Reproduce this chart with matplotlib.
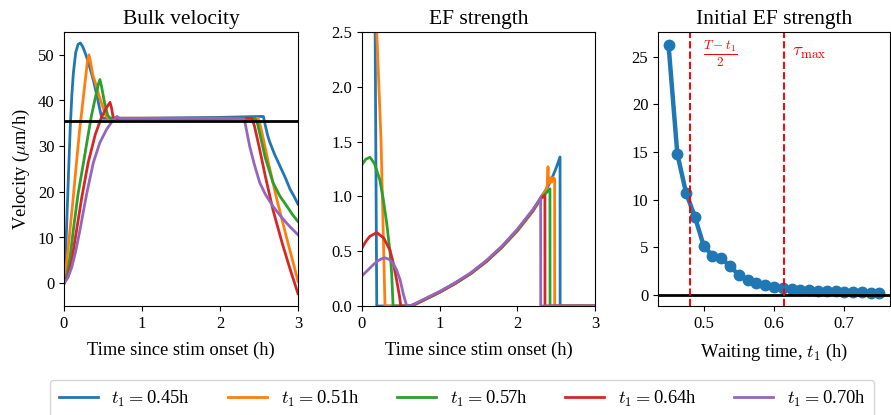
import matplotlib
matplotlib.use("Agg")
import matplotlib.pyplot as plt

plt.rcParams['font.family'] = ['Liberation Serif', 'DejaVu Serif']
plt.rcParams['mathtext.fontset'] = 'cm'

# ---- waiting times shown in the legend ----
t1_labels = ["0.45", "0.51", "0.57", "0.64", "0.70"]
colors = ["#1f77b4", "#ff7f0e", "#2ca02c", "#d62728", "#9467bd"]

# ---- Bulk velocity (um/h) vs time since stim onset (h) ----
vel_t_045 = [0, 0.02, 0.04, 0.06, 0.08, 0.10, 0.12, 0.15, 0.18, 0.21, 0.24, 0.27, 0.30, 0.34,
             0.38, 0.42, 0.45, 0.48, 0.50, 1.0, 1.5, 2.0, 2.5, 2.556, 2.58, 2.61, 2.64, 2.70,
             2.77, 2.84, 2.90, 2.95, 3.0]
vel_v_045 = [0, 6, 15.5, 25, 34, 41, 46, 50.5, 52.3, 52.6, 51.8, 50.5, 49.0, 46.7,
             44.2, 41.2, 38.8, 36.5, 36.1, 36.1, 36.2, 36.3, 36.5, 36.5, 34.6, 32.4, 30.8, 28.2,
             25.6, 23.0, 20.5, 19.0, 17.3]

vel_t_051 = [0, 0.02, 0.05, 0.077, 0.12, 0.16, 0.20, 0.25, 0.28, 0.30, 0.32, 0.34, 0.37, 0.40,
             0.45, 0.50, 0.54, 0.57, 1.0, 1.5, 2.0, 2.49, 2.51, 2.55, 2.62, 2.73, 2.85, 2.95, 3.0]
vel_v_051 = [0, 2.5, 7, 11.7, 19, 26.4, 33.5, 41, 45.5, 48.5, 50, 48.5, 45.5, 44,
             41, 38.5, 36.5, 36.1, 36.1, 36.1, 36.1, 36.1, 35, 32, 26.4, 18.3, 10.2, 3.7, 0.4]

vel_t_057 = [0, 0.04, 0.08, 0.12, 0.18, 0.25, 0.30, 0.35, 0.40, 0.44, 0.46, 0.48, 0.52, 0.56,
             0.59, 1.0, 1.5, 2.0, 2.45, 2.48, 2.52, 2.58, 2.68, 2.77, 2.86, 2.93, 3.0]
vel_v_057 = [0, 2, 6, 11.7, 19.5, 26.4, 31.5, 36.5, 40.5, 43.5, 44.6, 43.2, 39.5, 36.8,
             36.1, 36.1, 36.1, 36.1, 36.1, 35, 32, 27.5, 22, 19, 16.8, 15, 13.5]

vel_t_064 = [0, 0.05, 0.10, 0.162, 0.23, 0.31, 0.40, 0.48, 0.54, 0.59, 0.61, 0.63, 0.66,
             1.0, 1.5, 2.0, 2.41, 2.44, 2.50, 2.58, 2.68, 2.80, 2.90, 3.0]
vel_v_064 = [0, 1.5, 5, 11.7, 19, 26.4, 32.5, 36.3, 38.3, 39.6, 38.3, 36.3, 36.1,
             36.1, 36.1, 36.1, 36.1, 34.5, 30, 23.5, 16, 8.6, 3, -2.3]

vel_t_070 = [0, 0.05, 0.10, 0.15, 0.205, 0.29, 0.376, 0.46, 0.547, 0.62, 0.68, 0.71,
             1.0, 1.5, 2.0, 2.31, 2.34, 2.38, 2.44, 2.51, 2.58, 2.68, 2.80, 2.90, 3.0]
vel_v_070 = [0, 1.2, 3.5, 7, 11.7, 19.5, 26.4, 30.8, 33.7, 35.5, 36.5, 36.1,
             36.1, 36.1, 36.1, 36.0, 33.5, 30, 26, 22, 19.5, 16.8, 14.2, 12.3, 10.6]

target_velocity = 35.5

# ---- EF strength vs time since stim onset (h) ----
ef_t_045 = [0.165, 0.19, 0.62, 0.7, 0.8, 0.9, 1.0, 1.2, 1.4, 1.6, 1.8, 2.0, 2.2, 2.3, 2.35,
            2.4, 2.46, 2.5, 2.55, 2.551, 3.0]
ef_v_045 = [3.0, 0, 0, 0.02, 0.055, 0.09, 0.125, 0.205, 0.295, 0.405, 0.535, 0.685, 0.865, 0.99,
            1.04, 1.10, 1.19, 1.26, 1.36, 0, 0]

ef_t_051 = [0.18, 0.19, 0.245, 0.296, 0.62, 0.7, 0.8, 0.9, 1.0, 1.2, 1.4, 1.6, 1.8, 2.0, 2.2,
            2.3, 2.37, 2.385, 2.395, 2.40, 2.415, 2.43, 2.44, 2.46, 2.48, 2.481, 3.0]
ef_v_051 = [2.75, 2.5, 1.51, 0, 0, 0.02, 0.055, 0.09, 0.125, 0.205, 0.295, 0.405, 0.535, 0.685, 0.865,
            0.975, 1.06, 1.10, 1.27, 1.13, 1.12, 1.17, 1.13, 1.17, 1.16, 0, 0]

ef_t_057 = [0, 0.05, 0.103, 0.16, 0.23, 0.275, 0.318, 0.36, 0.382, 0.40, 0.62, 0.7, 0.8, 0.9,
            1.0, 1.2, 1.4, 1.6, 1.8, 2.0, 2.2, 2.3, 2.42, 2.421, 3.0]
ef_v_057 = [1.29, 1.34, 1.357, 1.30, 1.15, 0.97, 0.755, 0.50, 0.30, 0, 0, 0.022, 0.057, 0.092,
            0.127, 0.207, 0.297, 0.407, 0.537, 0.69, 0.87, 0.975, 1.07, 0, 0]

ef_t_064 = [0, 0.05, 0.10, 0.19, 0.28, 0.36, 0.40, 0.446, 0.48, 0.50, 0.62, 0.7, 0.8, 0.9,
            1.0, 1.2, 1.4, 1.6, 1.8, 2.0, 2.2, 2.3, 2.355, 2.356, 3.0]
ef_v_064 = [0.53, 0.59, 0.635, 0.67, 0.62, 0.51, 0.40, 0.237, 0.10, 0, 0, 0.023, 0.058, 0.093,
            0.128, 0.208, 0.298, 0.408, 0.54, 0.695, 0.875, 0.98, 1.01, 0, 0]

ef_t_070 = [0, 0.05, 0.10, 0.15, 0.20, 0.25, 0.296, 0.35, 0.40, 0.446, 0.49, 0.53, 0.575,
            0.62, 0.7, 0.8, 0.9, 1.0, 1.2, 1.4, 1.6, 1.8, 2.0, 2.2, 2.30, 2.301, 3.0]
ef_v_070 = [0.274, 0.31, 0.345, 0.38, 0.41, 0.43, 0.44, 0.425, 0.39, 0.328, 0.24, 0.116, 0,
            0, 0.028, 0.063, 0.098, 0.133, 0.213, 0.303, 0.415, 0.545, 0.70, 0.88, 0.985, 0, 0]

# ---- Initial EF strength vs waiting time ----
waiting_time = [0.45, 0.4625, 0.475, 0.4875, 0.5, 0.5125, 0.525, 0.5375, 0.55, 0.5625,
                0.575, 0.5875, 0.6, 0.6125, 0.625, 0.6375, 0.65, 0.6625, 0.675, 0.6875,
                0.7, 0.7125, 0.725, 0.7375, 0.75]
initial_ef = [26.24, 14.8, 10.7, 8.2, 5.17, 4.12, 3.88, 3.0, 2.13, 1.6,
              1.26, 1.05, 0.84, 0.72, 0.64, 0.57, 0.52, 0.47, 0.42, 0.38,
              0.35, 0.31, 0.28, 0.25, 0.2]
half_window = 0.48
tau_max = 0.614

vel_series = [(vel_t_045, vel_v_045), (vel_t_051, vel_v_051), (vel_t_057, vel_v_057),
              (vel_t_064, vel_v_064), (vel_t_070, vel_v_070)]
ef_series = [(ef_t_045, ef_v_045), (ef_t_051, ef_v_051), (ef_t_057, ef_v_057),
             (ef_t_064, ef_v_064), (ef_t_070, ef_v_070)]

W, H = 891, 415
fig = plt.figure(figsize=(W / 100, H / 100), dpi=100)


def axes_px(x0, x1, y0, y1):
    return fig.add_axes([x0 / W, 1 - y1 / H, (x1 - x0) / W, (y1 - y0) / H])


ax1 = axes_px(64, 298, 32, 306)
ax2 = axes_px(362, 595, 32, 306)
ax3 = axes_px(658, 890, 32, 306)

TICK = 12
TITLE = 15.5
LABEL = 13.3
LW = 2.0

handles = []
for (t, v), c, lab in zip(vel_series, colors, t1_labels):
    h, = ax1.plot(t, v, color=c, lw=LW, label=r"$t_1 = $" + lab + "h")
    handles.append(h)
ax1.axhline(target_velocity, color="black", lw=2.0)
ax1.set_xlim(0, 3)
ax1.set_ylim(-5, 55)
ax1.set_xticks([0, 1, 2, 3])
ax1.set_yticks([0, 10, 20, 30, 40, 50])
ax1.set_title("Bulk velocity", fontsize=TITLE)
ax1.set_xlabel("Time since stim onset (h)", fontsize=LABEL, labelpad=7)
ax1.set_ylabel(r"Velocity ($\mu$m/h)", fontsize=LABEL)

for (t, v), c in zip(ef_series, colors):
    ax2.plot(t, v, color=c, lw=LW)
ax2.set_xlim(0, 3)
ax2.set_ylim(0, 2.5)
ax2.set_xticks([0, 1, 2, 3])
ax2.set_yticks([0.0, 0.5, 1.0, 1.5, 2.0, 2.5])
ax2.set_title("EF strength", fontsize=TITLE)
ax2.set_xlabel("Time since stim onset (h)", fontsize=LABEL, labelpad=7)

ax3.plot(waiting_time, initial_ef, color=colors[0], lw=3.2, marker="o", ms=7.5)
ax3.axhline(0, color="black", lw=2.0)
ax3.axvline(half_window, color="red", ls="--", lw=1.4)
ax3.axvline(tau_max, color="red", ls="--", lw=1.4)
ax3.text(0.5236, 25.3, r"$\frac{T-t_1}{2}$", color="red", fontsize=13.5, ha="center", va="center")
ax3.text(0.625, 25.4, r"$\tau_{\max}$", color="red", fontsize=13.5, ha="left", va="center")
ax3.set_xlim(0.435, 0.765)
ax3.set_ylim(-1.15, 27.6)
ax3.set_xticks([0.5, 0.6, 0.7])
ax3.set_yticks([0, 5, 10, 15, 20, 25])
ax3.set_title("Initial EF strength", fontsize=TITLE)
ax3.set_xlabel(r"Waiting time, $t_1$ (h)", fontsize=LABEL, labelpad=7)

for ax in (ax1, ax2, ax3):
    ax.tick_params(labelsize=TICK)

fig.legend(handles=handles, loc="center", bbox_to_anchor=(462 / W, 1 - 399 / H),
           ncol=5, fontsize=13.3, handlelength=2.1, handletextpad=0.75,
           columnspacing=2.05, borderpad=0.5)

fig.savefig("out.png", dpi=100)
